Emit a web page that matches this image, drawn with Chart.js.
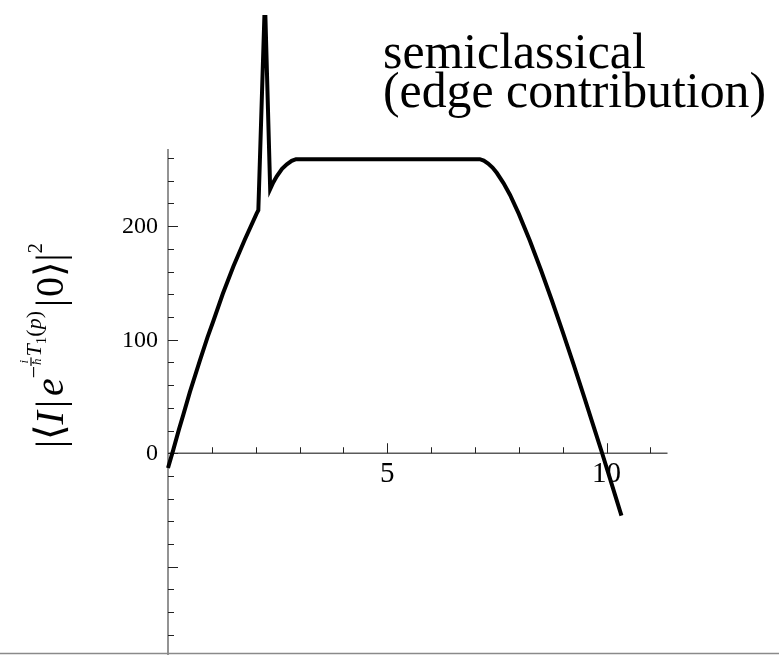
<!DOCTYPE html>
<html>
<head>
<meta charset="utf-8">
<script src="https://cdn.jsdelivr.net/npm/chart.js@4.4.0/dist/chart.umd.min.js"></script>
<style>
  html, body { margin: 0; padding: 0; background: #fff; }
  #wrap { width: 779px; height: 655px; position: relative; }
</style>
</head>
<body>
<div id="wrap"><canvas id="plot" width="779" height="655"></canvas></div>
<script>
// semiclassical edge contribution, sampled along p
const pValues   = [0, 0.12, 0.25, 0.35, 0.5, 0.73, 0.9, 1.03, 1.25, 1.49, 1.75, 2.02, 2.06,
                   2.21, 2.33, 2.40, 2.48, 2.60, 2.71, 2.82, 2.92,
                   7.11, 7.2, 7.3, 7.4, 7.5, 7.65, 7.8, 8.0, 8.25, 8.5, 8.75, 9.0, 9.25, 9.5, 9.75, 9.9, 10.1, 10.34];
const intensity = [-13, 3, 21, 34, 54, 82, 102, 116, 140.5, 164.5, 188, 211, 214,
                   400, 232.6, 238.5, 244, 250.5, 254.5, 257.5, 259,
                   259, 257.7, 255.2, 251.6, 246.8, 237.9, 227.5, 210.8, 187.4, 161.9, 135, 106.9, 78.1, 48.4, 18.2, 0, -25, -55];

// axis ranges
const xRange = [0, 11.39];
const yRange = [-177.7, 386];
const yAxisTop = 268;

// tick positions and labels
const xMajorTicks = [5, 10];
const xMinorTicks = [1, 2, 3, 4, 6, 7, 8, 9, 11];
const yMajorTicks = [-100, 0, 100, 200];
const yMinorTicks = [-160, -140, -120, -80, -60, -40, -20, 20, 40, 60, 80, 120, 140, 160, 180, 220, 240, 260];
const yTickLabels = [0, 100, 200];

const titleLines = ['semiclassical', '(edge contribution)'];

const SERIF = '"Liberation Serif", "DejaVu Serif", serif';
const MATH = '"Liberation Serif", "DejaVu Serif", "DejaVu Sans", serif';

// draws a run of text pieces along the current baseline
function drawRun(ctx, parts) {
  let x = 0;
  for (const p of parts) {
    if (p.gap) { x += p.gap; continue; }
    if (p.frac) {
      ctx.font = p.font;
      const wn = ctx.measureText(p.frac[0]).width;
      const wd = ctx.measureText(p.frac[1]).width;
      const w = Math.max(wn, wd) + 2;
      ctx.fillText(p.frac[0], x + (w - wn) / 2, p.bar - 3);
      ctx.fillText(p.frac[1], x + (w - wd) / 2, p.bar + 10);
      ctx.fillRect(x, p.bar - 0.6, w, 1.2);
      x += w + 1;
      continue;
    }
    ctx.font = p.font;
    ctx.fillText(p.t, x, p.dy || 0);
    x += ctx.measureText(p.t).width;
  }
  return x;
}

const axesPlugin = {
  id: 'mmaAxes',
  beforeDatasetsDraw(chart) {
    const ctx = chart.ctx;
    const xs = chart.scales.x, ys = chart.scales.y;
    const x0 = xs.getPixelForValue(0), y0 = ys.getPixelForValue(0);
    ctx.save();

    // axis lines
    ctx.strokeStyle = '#5a5a5a';
    ctx.lineWidth = 1.3;
    ctx.beginPath();
    ctx.moveTo(xs.getPixelForValue(xRange[0]), y0);
    ctx.lineTo(xs.getPixelForValue(xRange[1]), y0);
    ctx.moveTo(x0, ys.getPixelForValue(yAxisTop));
    ctx.lineTo(x0, chart.height);
    ctx.stroke();

    // tick marks, pointing into the plot
    ctx.strokeStyle = '#222';
    ctx.lineWidth = 1;
    ctx.beginPath();
    xMinorTicks.forEach(v => { const px = Math.round(xs.getPixelForValue(v)) + 0.5; ctx.moveTo(px, y0); ctx.lineTo(px, y0 - 6); });
    xMajorTicks.forEach(v => { const px = Math.round(xs.getPixelForValue(v)) + 0.5; ctx.moveTo(px, y0); ctx.lineTo(px, y0 - 10); });
    yMinorTicks.forEach(v => { const py = Math.round(ys.getPixelForValue(v)) + 0.5; ctx.moveTo(x0, py); ctx.lineTo(x0 + 6, py); });
    yMajorTicks.forEach(v => { const py = Math.round(ys.getPixelForValue(v)) + 0.5; ctx.moveTo(x0, py); ctx.lineTo(x0 + 10, py); });
    ctx.stroke();

    // tick labels
    ctx.fillStyle = '#000';
    ctx.font = '29px ' + SERIF;
    ctx.textAlign = 'center';
    ctx.textBaseline = 'alphabetic';
    xMajorTicks.forEach(v => ctx.fillText(String(v), xs.getPixelForValue(v), y0 + 29));
    ctx.font = '24px ' + SERIF;
    ctx.textAlign = 'right';
    yTickLabels.forEach(v => ctx.fillText(String(v), x0 - 10, ys.getPixelForValue(v) + 7));

    ctx.restore();
  },
  afterDraw(chart) {
    const ctx = chart.ctx;
    ctx.save();
    ctx.fillStyle = '#000';
    ctx.textAlign = 'left';
    ctx.textBaseline = 'alphabetic';

    // plot label, sized so the longer line spans its box
    ctx.font = '50px ' + SERIF;
    const fs = 50 * 383 / ctx.measureText(titleLines[1]).width;
    ctx.font = fs.toFixed(1) + 'px ' + SERIF;
    ctx.fillText(titleLines[0], 383, 68);
    ctx.fillText(titleLines[1], 383, 106.5);

    // vertical axis label |<I| e^{-i/hbar T_1(p)} |0>|^2
    const F = 40, S = 22;
    const up = F + 'px ' + MATH, it = 'italic ' + F + 'px ' + MATH;
    const sUp = S + 'px ' + MATH, sIt = 'italic ' + S + 'px ' + MATH;
    ctx.translate(63, 448);
    ctx.rotate(-Math.PI / 2);
    drawRun(ctx, [
      { t: '|', font: up }, { t: '\u27E8', font: up }, { t: 'I', font: it }, { gap: 3 },
      { t: '|', font: up }, { gap: 4 }, { t: 'e', font: it },
      { t: '\u2212', font: sUp, dy: -22 },
      { frac: ['i', '\u0127'], font: 'italic 13px ' + MATH, bar: -32 },
      { t: 'T', font: sIt, dy: -22 }, { t: '1', font: '15px ' + MATH, dy: -17 },
      { t: '(', font: sUp, dy: -22 }, { t: 'p', font: sIt, dy: -22 }, { t: ')', font: sUp, dy: -22 },
      { gap: 4 }, { t: '|', font: up }, { gap: 2 }, { t: '0', font: up }, { t: '\u27E9', font: up }, { t: '|', font: up },
      { t: '2', font: '21px ' + MATH, dy: -21 }
    ]);
    ctx.restore();

    // thin rule along the lower edge
    ctx.save();
    ctx.strokeStyle = '#8a8a8a';
    ctx.lineWidth = 1.5;
    ctx.beginPath();
    ctx.moveTo(0, 653.5);
    ctx.lineTo(chart.width, 653.5);
    ctx.stroke();
    ctx.restore();
  }
};

const points = pValues.map((p, i) => ({ x: p, y: intensity[i] }));

new Chart(document.getElementById('plot'), {
  type: 'line',
  data: {
    datasets: [{
      data: points,
      borderColor: '#000',
      borderWidth: 4,
      pointRadius: 0,
      tension: 0,
      borderJoinStyle: 'miter',
      clip: { left: 4, right: 4, top: 0, bottom: 4 }
    }]
  },
  options: {
    responsive: false,
    animation: false,
    devicePixelRatio: 1,
    layout: { padding: { left: 168, right: 111.5, top: 15, bottom: 0 } },
    scales: {
      x: { type: 'linear', min: xRange[0], max: xRange[1], display: false },
      y: { type: 'linear', min: yRange[0], max: yRange[1], display: false }
    },
    plugins: { legend: { display: false }, tooltip: { enabled: false } }
  },
  plugins: [axesPlugin]
});
</script>
</body>
</html>
